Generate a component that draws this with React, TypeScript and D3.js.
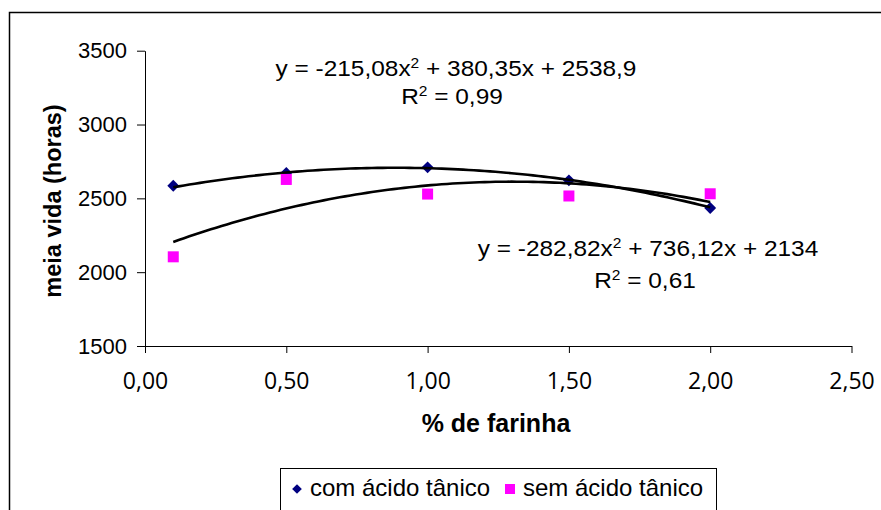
import React, { useEffect, useRef } from 'react';
import * as d3 from 'd3';

const doses = [0.1, 0.5, 1.0, 1.5, 2.0];
const comAcido = [2585, 2672, 2710, 2622, 2435];
const semAcido = [2104, 2628, 2529, 2516, 2531];
const yTicks = [1500, 2000, 2500, 3000, 3500];
const xTicks = [0, 0.5, 1.0, 1.5, 2.0, 2.5];

// polynomial trendline coefficients [a, b, c] for a*x^2 + b*x + c
const fitCom = [-215.08, 380.35, 2538.9];
const fitSem = [-282.82, 736.12, 2134];

const W = 881;
const H = 510;

export default function App() {
  const svgRef = useRef<SVGSVGElement>(null);

  useEffect(() => {
    const svg = d3.select(svgRef.current);
    svg.selectAll('*').remove();

    const x = d3.scaleLinear().domain([0, 2.5]).range([145, 851.5]);
    const y = d3.scaleLinear().domain([1500, 3500]).range([346, 50.7]);

    // outer frame
    svg
      .append('rect')
      .attr('x', 9.5)
      .attr('y', 12.5)
      .attr('width', W)
      .attr('height', H)
      .attr('fill', 'none')
      .attr('stroke', '#000')
      .attr('stroke-width', 1.5);

    const yAxis = svg
      .append('g')
      .attr('transform', `translate(${x(0)},0)`)
      .call(
        d3
          .axisLeft(y)
          .tickValues(yTicks)
          .tickSize(8)
          .tickSizeOuter(0)
          .tickPadding(10)
          .tickFormat((d) => String(d))
      );
    yAxis.select('.domain').attr('stroke', '#000');
    yAxis.selectAll('.tick line').attr('stroke', '#000');
    yAxis
      .selectAll('.tick text')
      .style('font-family', 'Liberation Sans, Arial, sans-serif')
      .style('font-size', '22px')
      .attr('fill', '#000');

    const xAxis = svg
      .append('g')
      .attr('transform', `translate(0,${y(1500)})`)
      .call(
        d3
          .axisBottom(x)
          .tickValues(xTicks)
          .tickSize(7)
          .tickSizeOuter(0)
          .tickPadding(20)
          .tickFormat((d) => d3.format('.2f')(d as number).replace('.', ','))
      );
    xAxis.select('.domain').attr('stroke', '#000');
    xAxis.selectAll('.tick line').attr('stroke', '#000');
    xAxis
      .selectAll('.tick text')
      .style('font-family', 'Open Sans, sans-serif')
      .style('font-size', '23px')
      .attr('fill', '#000');

    // axis titles
    svg
      .append('text')
      .attr('x', 496)
      .attr('y', 432)
      .attr('text-anchor', 'middle')
      .style('font-family', 'Liberation Sans, Arial, sans-serif')
      .style('font-size', '25px')
      .style('font-weight', 'bold')
      .text('% de farinha');

    svg
      .append('text')
      .attr('transform', 'translate(61,201) rotate(-90)')
      .attr('text-anchor', 'middle')
      .style('font-family', 'Liberation Sans, Arial, sans-serif')
      .style('font-size', '23.5px')
      .style('font-weight', 'bold')
      .text('meia vida (horas)');

    // markers: diamonds
    const diamond = d3.symbol().type(d3.symbolDiamond2).size(90);
    svg
      .append('g')
      .selectAll('path')
      .data(doses)
      .join('path')
      .attr('d', diamond)
      .attr('transform', (d, i) => `translate(${x(d)},${y(comAcido[i])})`)
      .attr('fill', '#000080');

    // trendlines
    const samples = d3.range(0, 101).map((i) => 0.1 + (1.9 * i) / 100);
    const poly = (c: number[]) => (t: number) => c[0] * t * t + c[1] * t + c[2];
    const line = d3
      .line<number>()
      .x((t) => x(t))
      .curve(d3.curveLinear);
    [fitCom, fitSem].forEach((c) => {
      const f = poly(c);
      svg
        .append('path')
        .datum(samples)
        .attr('d', line.y((t) => y(f(t))))
        .attr('fill', 'none')
        .attr('stroke', '#000')
        .attr('stroke-width', 2.6);
    });

    // markers: squares
    svg
      .append('g')
      .selectAll('rect')
      .data(doses)
      .join('rect')
      .attr('x', (d) => x(d) - 5.5)
      .attr('y', (d, i) => y(semAcido[i]) - 5.5)
      .attr('width', 11)
      .attr('height', 11)
      .attr('fill', '#FF00FF');

    // equation labels
    const eqLabel = (cx: number, by: number, pre: string, post: string, sx: number) => {
      const g = svg
        .append('g')
        .attr('transform', `translate(${cx},${by}) scale(${sx},1)`);
      const t = g
        .append('text')
        .attr('text-anchor', 'middle')
        .style('font-family', 'Liberation Sans, Arial, sans-serif')
        .style('font-size', '22px')
        .attr('fill', '#000');
      t.append('tspan').text(pre);
      t.append('tspan').attr('dy', -8).style('font-size', '14px').text('2');
      t.append('tspan').attr('dy', 8).text(post);
    };
    eqLabel(456, 76, 'y = -215,08x', ' + 380,35x + 2538,9', 1.11);
    eqLabel(452, 104, 'R', ' = 0,99', 1.11);
    eqLabel(648, 256, 'y = -282,82x', ' + 736,12x + 2134', 1.11);
    eqLabel(645, 288, 'R', ' = 0,61', 1.11);

    // legend
    svg
      .append('rect')
      .attr('x', 280.5)
      .attr('y', 468.5)
      .attr('width', 436)
      .attr('height', 60)
      .attr('fill', '#fff')
      .attr('stroke', '#000')
      .attr('stroke-width', 1);
    svg
      .append('path')
      .attr('d', d3.symbol().type(d3.symbolDiamond2).size(60)())
      .attr('transform', 'translate(297,489)')
      .attr('fill', '#000080');
    svg
      .append('rect')
      .attr('x', 505)
      .attr('y', 484)
      .attr('width', 10)
      .attr('height', 10)
      .attr('fill', '#FF00FF');
    const legText = (lx: number, s: string) =>
      svg
        .append('text')
        .attr('x', lx)
        .attr('y', 496)
        .style('font-family', 'Liberation Sans, Arial, sans-serif')
        .style('font-size', '24px')
        .text(s);
    legText(310, 'com ácido tânico');
    legText(523, 'sem ácido tânico');
  }, []);

  return (
    <div style={{ position: 'absolute', left: 0, top: 0, width: W, height: H, background: '#fff' }}>
      <svg ref={svgRef} width={W} height={H} style={{ display: 'block' }} />
    </div>
  );
}
